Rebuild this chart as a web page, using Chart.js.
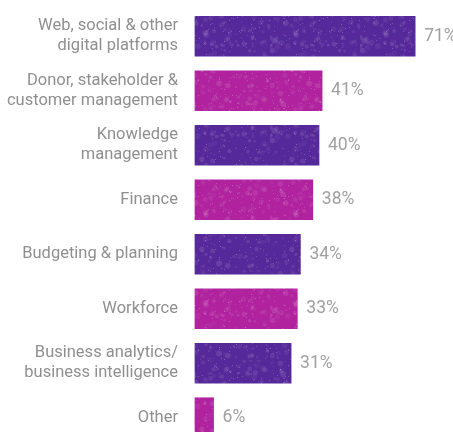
<!DOCTYPE html>
<html>
<head>
<meta charset="utf-8">
<script src="https://cdn.jsdelivr.net/npm/chart.js@4"></script>
<style>
  html, body { margin: 0; padding: 0; background: #fff; overflow: hidden; }
  canvas { display: block; }
</style>
</head>
<body>
<canvas id="areasChart" width="453" height="446"></canvas>
<script>
// categories and values
var categories = [
  ["Web, social & other", "digital platforms"],
  ["Donor, stakeholder &", "customer management"],
  ["Knowledge", "management"],
  "Finance",
  "Budgeting & planning",
  "Workforce",
  ["Business analytics/", "business intelligence"],
  "Other"
];
var percents = [71, 41, 40, 38, 34, 33, 31, 6];

var FONT = "Roboto, 'Liberation Sans', sans-serif";
var PURPLE = "#56299a";
var MAGENTA = "#b0229e";

// speckled texture like the printed bars (fixed seed, just styling)
function speckle(base) {
  var c = document.createElement("canvas");
  c.width = 90; c.height = 90;
  var g = c.getContext("2d");
  g.fillStyle = base;
  g.fillRect(0, 0, 90, 90);
  var seed = 11;
  function rnd() { seed = (seed * 16807) % 2147483647; return seed / 2147483647; }
  for (var i = 0; i < 140; i++) {
    g.fillStyle = "rgba(255,255,255," + (0.03 + rnd() * 0.08).toFixed(2) + ")";
    g.beginPath();
    g.arc(rnd() * 90, rnd() * 90, 1 + rnd() * 2, 0, Math.PI * 2);
    g.fill();
  }
  for (var j = 0; j < 160; j++) {
    g.fillStyle = "rgba(255,255,255," + (0.08 + rnd() * 0.2).toFixed(2) + ")";
    g.fillRect(Math.floor(rnd() * 90), Math.floor(rnd() * 90), 1, 1);
  }
  return g.createPattern(c, "repeat");
}
var purplePat = speckle(PURPLE);
var magentaPat = speckle(MAGENTA);

// value labels after each bar
var valueLabels = {
  id: "valueLabels",
  afterDatasetsDraw: function (chart) {
    var ctx = chart.ctx;
    var meta = chart.getDatasetMeta(0);
    ctx.save();
    ctx.font = "17.5px " + FONT;
    ctx.fillStyle = "#a0a0a0";
    ctx.textAlign = "left";
    ctx.textBaseline = "middle";
    meta.data.forEach(function (bar, i) {
      ctx.fillText(percents[i] + "%", bar.x + 9, bar.y);
    });
    ctx.restore();
  }
};

var ctx = document.getElementById("areasChart").getContext("2d");
var areasChart = new Chart(ctx, {
  type: "bar",
  data: {
    labels: categories,
    datasets: [{
      data: percents,
      backgroundColor: percents.map(function (v, i) { return i % 2 === 0 ? purplePat : magentaPat; }),
      borderWidth: 0,
      barThickness: 40
    }]
  },
  plugins: [valueLabels],
  options: {
    indexAxis: "y",
    responsive: false,
    animation: false,
    layout: { padding: { top: 9, bottom: 1, left: 0, right: 0 } },
    plugins: {
      legend: { display: false },
      tooltip: { enabled: false }
    },
    scales: {
      x: {
        display: false,
        min: -1.6,
        max: 83.2
      },
      y: {
        grid: { display: false, drawTicks: false },
        border: { display: false },
        ticks: {
          color: "#8f8f8f",
          padding: 12,
          font: { family: FONT, size: 16.5, lineHeight: 1.2 }
        },
        afterFit: function (scale) {
          scale.width = 190;
          scale.paddingTop = 0;
          scale.paddingBottom = 0;
        }
      }
    }
  }
});
</script>
</body>
</html>
